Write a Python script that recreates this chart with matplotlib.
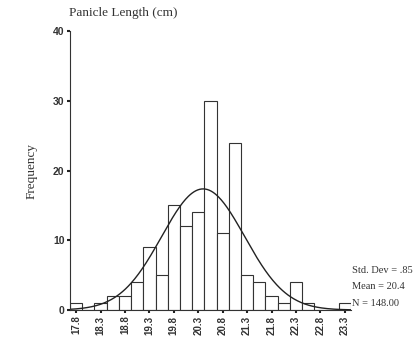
import numpy as np
import matplotlib
matplotlib.use("Agg")
import matplotlib.pyplot as plt

# Data
bin_centers = [17.8, 18.05, 18.3, 18.55, 18.8, 19.05, 19.3, 19.55, 19.8, 20.05, 20.3, 20.55,
               20.8, 21.05, 21.3, 21.55, 21.8, 22.05, 22.3, 22.55, 22.8, 23.05, 23.3]
counts = [1, 0, 1, 2, 2, 4, 9, 5, 15, 12, 14, 30, 11, 24, 5, 4, 2, 1, 4, 1, 0, 0, 1]
tick_labels = ["17.8", "18.3", "18.8", "19.3", "19.8", "20.3", "20.8", "21.3",
               "21.8", "22.3", "22.8", "23.3"]
mean_val = 20.4
std_val = 0.85
n_val = 148
bin_width = 0.25

fig = plt.figure(figsize=(4.18, 3.41), dpi=100)
ax = fig.add_axes([0.1675, 0.0909, 0.672, 0.818])

ax.bar(bin_centers, counts, width=bin_width, color="white", edgecolor="#333333",
       linewidth=0.8, align="center")

xs = np.linspace(bin_centers[0] - bin_width / 2, bin_centers[-1] + bin_width / 2, 300)
ys = n_val * bin_width / (std_val * np.sqrt(2 * np.pi)) * np.exp(-0.5 * ((xs - mean_val) / std_val) ** 2)
ax.plot(xs, ys, color="#222222", linewidth=1.0)

ax.set_xlim(bin_centers[0] - bin_width / 2, bin_centers[-1] + bin_width / 2)
ax.set_ylim(0, 40)
ax.set_yticks([0, 10, 20, 30, 40])
ax.set_xticks([float(t) for t in tick_labels])
ax.set_xticklabels(tick_labels, rotation=90, fontsize=7, fontweight="bold",
                   family="Liberation Sans", color="#333333")
for lab in ax.get_yticklabels():
    lab.set_fontsize(7.5)
    lab.set_fontweight("bold")
    lab.set_family("Liberation Sans")
    lab.set_color("#333333")

ax.spines["top"].set_visible(False)
ax.spines["right"].set_visible(False)
ax.spines["left"].set_color("#333333")
ax.spines["bottom"].set_color("#333333")
ax.tick_params(axis="both", length=2, width=1.5, color="#222222", pad=2)

ax.set_ylabel("Frequency", family="Liberation Serif", fontsize=9.5, color="#333333", labelpad=11)
fig.text(0.165, 0.962, "Panicle Length (cm)", family="Liberation Serif", fontsize=9.5,
         color="#333333", ha="left", va="center")

stats = [("Std. Dev = .85", 0.208), ("Mean = 20.4", 0.160), ("N = 148.00", 0.111)]
for txt, yy in stats:
    fig.text(0.842, yy, txt, family="Liberation Serif", fontsize=7.5, color="#333333",
             ha="left", va="center")

fig.savefig("out.png", dpi=100)
